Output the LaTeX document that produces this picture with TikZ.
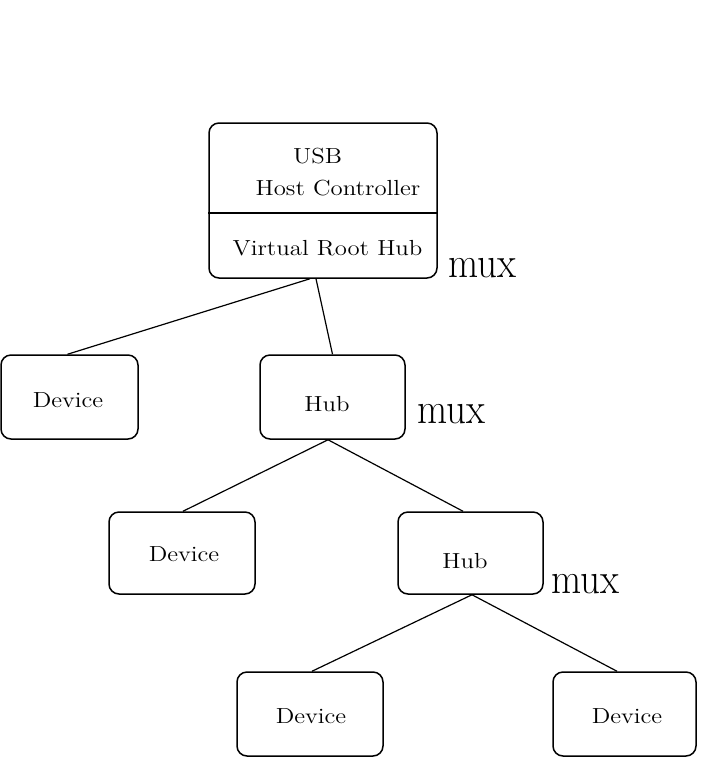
\documentclass[tikz,border=0pt]{standalone}
\usepackage{graphicx}
\begin{document}
\newcommand{\boxtxt}[1]{\scalebox{1}[0.88]{#1}}
\newcommand{\muxtxt}[1]{\scalebox{1}[1.12]{#1}}
\tikzset{
  box/.style={draw, rounded corners=5pt, line width=0.75pt, inner sep=0pt},
  lbl/.style={anchor=base, inner sep=0pt, font=\fontsize{12.4}{14}\selectfont},
  muxl/.style={anchor=base west, inner sep=0pt, font=\fontsize{19.5}{22}\selectfont},
  wire/.style={line width=0.6pt}
}
\begin{tikzpicture}[x=0.5pt,y=-0.5pt]
\useasboundingbox (0,0) rectangle (720,784);
% boxes
\node[box, minimum width=114pt, minimum height=77.5pt] (top) at (323,200.5) {};
\node[box, minimum width=68.5pt, minimum height=42pt] (dev1) at (69.5,397) {};
\node[box, minimum width=72.5pt, minimum height=42pt] (hub1) at (332.5,397) {};
\node[box, minimum width=73pt, minimum height=41pt] (dev2) at (182,553) {};
\node[box, minimum width=72.5pt, minimum height=41pt] (hub2) at (470.5,553) {};
\node[box, minimum width=73pt, minimum height=42pt] (dev3) at (310,714) {};
\node[box, minimum width=71.5pt, minimum height=42pt] (dev4) at (624.5,714) {};
% divider in the top box
\coordinate (div) at (323,213);
\draw[line width=0.75pt] (top.west |- div) -- (top.east |- div);
% texts
\node[lbl] (usb) at (317.5,163) {\boxtxt{USB}};
\node[lbl] (hc) at (338,195) {\boxtxt{Host Controller}};
\node[lbl] (vrh) at (327.5,255) {\boxtxt{Virtual Root Hub}};
\node[lbl] (dev1t) at (68,407) {\boxtxt{Device}};
\node[lbl] (hub1t) at (327,411) {\boxtxt{Hub}};
\node[lbl] (dev2t) at (184,561) {\boxtxt{Device}};
\node[lbl] (hub2t) at (465,568) {\boxtxt{Hub}};
\node[lbl] (dev3t) at (311,723) {\boxtxt{Device}};
\node[lbl] (dev4t) at (627,723) {\boxtxt{Device}};
% mux labels
\node[muxl] (mux1) at (448,277) {\muxtxt{mux}};
\node[muxl] (mux2) at (417,423) {\muxtxt{mux}};
\node[muxl] (mux3) at (551,593) {\muxtxt{mux}};
% connectors
\draw[wire] ([xshift=-6.5pt]top.south) -- ([xshift=-1pt]dev1.north);
\draw[wire] ([xshift=-3.5pt]top.south) -- (hub1.north);
\draw[wire] ([xshift=-2.25pt]hub1.south) -- ([xshift=0.5pt]dev2.north);
\draw[wire] ([xshift=-2.25pt]hub1.south) -- ([xshift=-3.75pt]hub2.north);
\draw[wire] ([xshift=0.75pt]hub2.south) -- ([xshift=1pt]dev3.north);
\draw[wire] ([xshift=0.75pt]hub2.south) -- ([xshift=-3.75pt]dev4.north);
\end{tikzpicture}
\end{document}
